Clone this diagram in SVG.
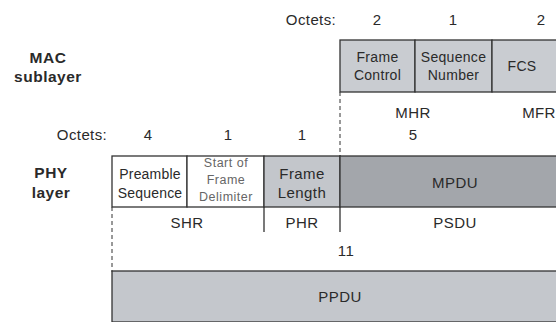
<svg xmlns="http://www.w3.org/2000/svg" width="556" height="322" viewBox="0 0 556 322">
<style>
text{font-family:"Liberation Sans",Arial,sans-serif;fill:#2a2a2a;text-anchor:middle}
.o{font-size:15px;letter-spacing:0.4px}
.f{font-size:14px;letter-spacing:0.3px}
.p{font-size:14px;letter-spacing:0.2px}
.s{font-size:12.5px;fill:#666;letter-spacing:0.5px}
.b{font-size:15.5px;font-weight:bold;letter-spacing:0.5px}
.box{stroke:#333;stroke-width:1.3}
.dash{stroke:#333;stroke-width:1;stroke-dasharray:4,3;fill:none}
.ln{stroke:#333;stroke-width:1.3;fill:none}
</style>
<rect width="556" height="322" fill="#fff"/>
<g id="labels">
<text class="b" x="48" y="63">MAC</text>
<text class="b" x="48" y="82">sublayer</text>
<text class="b" x="51" y="178">PHY</text>
<text class="b" x="51" y="198">layer</text>
<text class="o" x="311" y="25">Octets:</text>
<text class="o" x="377" y="25">2</text>
<text class="o" x="453" y="25">1</text>
<text class="o" x="541" y="25">2</text>
<text class="o" x="82" y="140">Octets:</text>
<text class="o" x="148" y="140">4</text>
<text class="o" x="228" y="140">1</text>
<text class="o" x="302" y="140">1</text>
<text class="o" x="413" y="140">5</text>
<text class="o" x="413" y="118">MHR</text>
<text class="o" x="539" y="118">MFR</text>
<text class="o" x="187" y="228">SHR</text>
<text class="o" x="302" y="228">PHR</text>
<text class="o" x="455" y="228">PSDU</text>
<text class="o" x="346" y="256">11</text>
</g>
<g id="connectors">
<path class="dash" d="M340 92V156"/>
<path class="dash" d="M112 207V272"/>
<path class="ln" d="M264 207V232M340 207V232"/>
</g>
<g id="frame-control">
<rect class="box" x="340" y="40" width="75" height="52" fill="#c9ccd1"/>
<text class="f" x="377.5" y="62">Frame</text>
<text class="f" x="377.5" y="80">Control</text>
</g>
<g id="sequence-number">
<rect class="box" x="415" y="40" width="77" height="52" fill="#c9ccd1"/>
<text class="f" x="453.5" y="62">Sequence</text>
<text class="f" x="453.5" y="80">Number</text>
</g>
<g id="fcs">
<rect class="box" x="492" y="40" width="66" height="52" fill="#c9ccd1"/>
<text class="f" x="522" y="71">FCS</text>
</g>
<g id="preamble">
<rect class="box" x="112" y="156" width="75" height="51" fill="#fff"/>
<text class="p" x="150" y="179">Preamble</text>
<text class="p" x="150" y="198">Sequence</text>
</g>
<g id="sfd">
<rect class="box" x="187" y="156" width="77" height="51" fill="#fff"/>
<text class="s" x="226" y="167">Start of</text>
<text class="s" x="226" y="184">Frame</text>
<text class="s" x="226" y="201">Delimiter</text>
</g>
<g id="frame-length">
<rect class="box" x="264" y="156" width="76" height="51" fill="#c3c6cb"/>
<text class="o" x="302" y="179">Frame</text>
<text class="o" x="302" y="198">Length</text>
</g>
<g id="mpdu">
<rect class="box" x="340" y="156" width="218" height="51" fill="#a3a6ab"/>
<text class="o" x="455" y="188">MPDU</text>
</g>
<g id="ppdu">
<rect class="box" x="112" y="271" width="446" height="51" fill="#c4c7cc"/>
<text class="o" x="340" y="302">PPDU</text>
</g>
</svg>
